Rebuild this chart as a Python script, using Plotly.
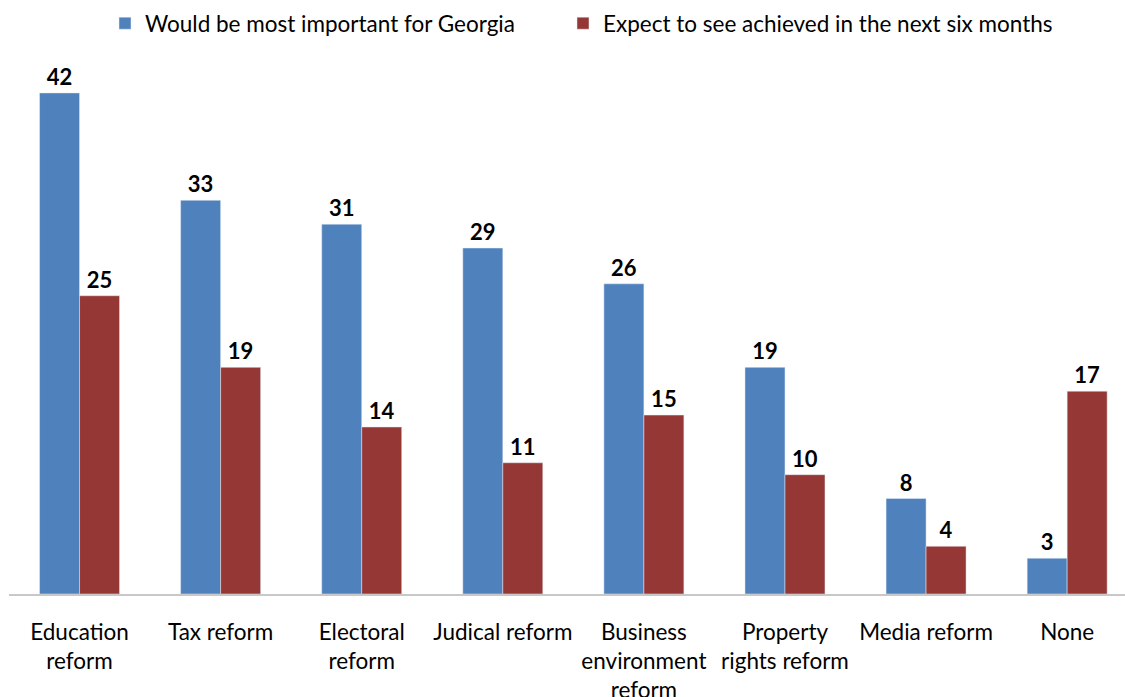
import plotly.graph_objects as go

categories = ["Education<br>reform", "Tax reform", "Electoral<br>reform", "Judical reform",
              "Business<br>environment<br>reform", "Property<br>rights reform", "Media reform", "None"]
important = [42, 33, 31, 29, 26, 19, 8, 3]
expected = [25, 19, 14, 11, 15, 10, 4, 17]
series_names = ["Would be most important for Georgia", "Expect to see achieved in the next six months"]

FONT = "Lato"
x = list(range(len(categories)))

fig = go.Figure()
fig.add_trace(go.Bar(x=x, y=important, name=series_names[0], marker_color="#4F81BD",
                     text=important, textposition="outside", cliponaxis=False, legend="legend",
                     textfont=dict(family=FONT, size=22, color="#000000", weight="bold")))
fig.add_trace(go.Bar(x=x, y=expected, name=series_names[1], marker_color="#953735",
                     text=expected, textposition="outside", cliponaxis=False, legend="legend2",
                     textfont=dict(family=FONT, size=22, color="#000000", weight="bold")))

legend_common = dict(orientation="h", xanchor="left", xref="container",
                     y=0.997, yanchor="top", yref="container",
                     font=dict(family=FONT, size=22.5, color="#000000"), itemwidth=30)

fig.update_layout(
    width=1125, height=697,
    margin=dict(l=9, r=0, t=60, b=103, autoexpand=False),
    paper_bgcolor="white", plot_bgcolor="white",
    barmode="group", bargap=0.433, bargroupgap=0,
    showlegend=True,
    legend=dict(x=105 / 1125, **legend_common),
    legend2=dict(x=563 / 1125, **legend_common),
    font=dict(family=FONT, color="#000000"),
)
fig.update_xaxes(range=[-0.5, 7.41], tickmode="array", tickvals=x, ticktext=categories,
                 showline=True, linecolor="#C8C8C8", linewidth=1.5, showgrid=False,
                 ticks="outside", ticklen=0, tickcolor="rgba(0,0,0,0)",
                 ticklabelstandoff=17, tickangle=0, automargin=False,
                 tickfont=dict(family=FONT, size=22.5, color="#000000"))
fig.update_yaxes(range=[0, 44.76], visible=False, automargin=False)

fig.write_html("out.html")
